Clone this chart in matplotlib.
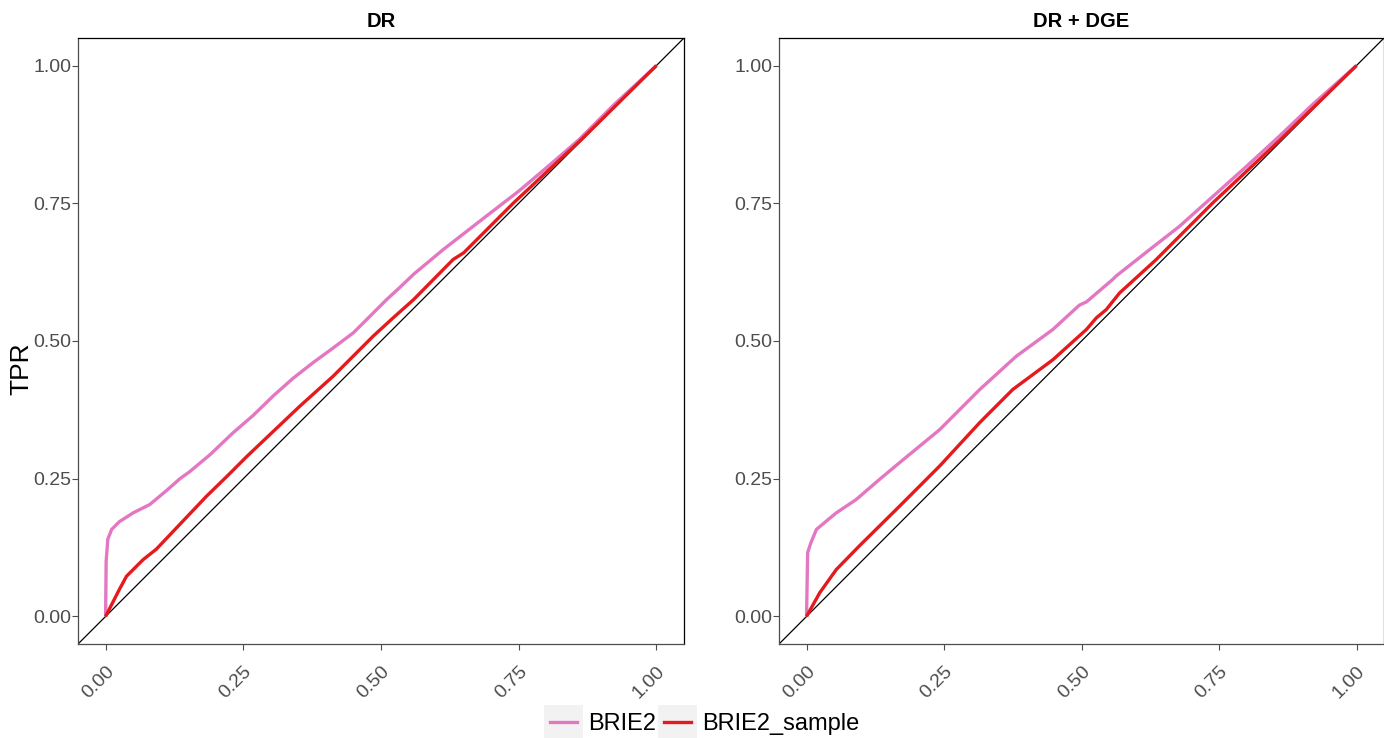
import matplotlib.pyplot as plt
from matplotlib.legend_handler import HandlerLine2D
from matplotlib.patches import Rectangle
from matplotlib.lines import Line2D

# ROC curves: false positive rate vs true positive rate
dr_brie2_fpr = [0.0, 0.001, 0.004, 0.011, 0.025, 0.05, 0.08, 0.11, 0.135, 0.153, 0.19,
                0.231, 0.268, 0.304, 0.34, 0.377, 0.41, 0.45, 0.48, 0.51, 0.535, 0.559,
                0.613, 0.68, 0.75, 0.801, 0.86, 0.922, 1.0]
dr_brie2_tpr = [0.0, 0.10, 0.14, 0.158, 0.172, 0.188, 0.203, 0.228, 0.25, 0.263, 0.294,
                0.333, 0.365, 0.40, 0.432, 0.461, 0.485, 0.515, 0.545, 0.575, 0.598, 0.621,
                0.666, 0.718, 0.772, 0.815, 0.866, 0.928, 1.0]
dr_sample_fpr = [0.0, 0.025, 0.038, 0.068, 0.092, 0.183, 0.22, 0.256, 0.353, 0.413, 0.486,
                 0.522, 0.559, 0.631, 0.65, 0.741, 0.862, 1.0]
dr_sample_tpr = [0.0, 0.049, 0.073, 0.103, 0.122, 0.218, 0.254, 0.29, 0.382, 0.436, 0.509,
                 0.542, 0.575, 0.648, 0.660, 0.751, 0.864, 1.0]

dge_brie2_fpr = [0.0, 0.002, 0.008, 0.018, 0.054, 0.09, 0.133, 0.169, 0.242, 0.315, 0.381,
                 0.448, 0.496, 0.509, 0.557, 0.563, 0.624, 0.678, 0.8, 0.86, 0.921, 1.0]
dge_brie2_tpr = [0.0, 0.116, 0.134, 0.158, 0.188, 0.212, 0.249, 0.279, 0.339, 0.412, 0.472,
                 0.521, 0.565, 0.571, 0.612, 0.618, 0.666, 0.708, 0.817, 0.872, 0.930, 1.0]
dge_sample_fpr = [0.0, 0.024, 0.054, 0.096, 0.169, 0.242, 0.315, 0.375, 0.448, 0.509, 0.527,
                  0.545, 0.569, 0.636, 0.648, 0.739, 0.86, 1.0]
dge_sample_tpr = [0.0, 0.043, 0.085, 0.128, 0.200, 0.273, 0.352, 0.412, 0.466, 0.521, 0.542,
                  0.557, 0.587, 0.648, 0.660, 0.751, 0.864, 1.0]

panels = [
    ("DR", dr_brie2_fpr, dr_brie2_tpr, dr_sample_fpr, dr_sample_tpr),
    ("DR + DGE", dge_brie2_fpr, dge_brie2_tpr, dge_sample_fpr, dge_sample_tpr),
]
ticks = [0.0, 0.25, 0.5, 0.75, 1.0]
tick_labels = ["0.00", "0.25", "0.50", "0.75", "1.00"]
pink = "#e377c2"
red = "#e41a1c"
grey = "#4d4d4d"

plt.rcParams["font.family"] = ["Liberation Sans", "DejaVu Sans"]
fig = plt.figure(figsize=(13.84, 7.38), dpi=100)
boxes = [[0.0564, 0.1274, 0.4378, 0.8211], [0.5629, 0.1274, 0.4371, 0.8211]]

for box, (title, bx, by, sx, sy) in zip(boxes, panels):
    ax = fig.add_axes(box)
    ax.axline((0, 0), slope=1, color="black", lw=0.9, zorder=1)
    ax.plot(bx, by, color=pink, lw=2.4, solid_capstyle="butt", zorder=2)
    ax.plot(sx, sy, color=red, lw=2.4, solid_capstyle="butt", zorder=3)
    ax.set_xlim(-0.05, 1.05)
    ax.set_ylim(-0.05, 1.05)
    ax.set_xticks(ticks)
    ax.set_xticklabels(tick_labels, rotation=45, ha="right", va="top",
                       rotation_mode="anchor")
    ax.set_yticks(ticks)
    ax.set_yticklabels(tick_labels)
    ax.tick_params(colors=grey, labelcolor=grey, labelsize=14, length=4, width=0.8)
    ax.tick_params(axis="x", pad=10)
    ax.tick_params(axis="y", pad=1)
    ax.spines["left"].set_color(grey)
    ax.spines["bottom"].set_color(grey)
    ax.spines["top"].set_color("black")
    ax.spines["right"].set_color("black")
    for s in ax.spines.values():
        s.set_linewidth(0.9)
    ax.set_title(title, fontsize=14.5, fontweight="bold", pad=8)

fig.text(21 / 1384, 0.5, "TPR", rotation=90, fontsize=19, ha="center", va="center")


class KeyHandler(HandlerLine2D):
    # grey key background behind each legend line
    def create_artists(self, legend, orig_handle, xdescent, ydescent,
                       width, height, fontsize, trans):
        bg = Rectangle((-xdescent - 4, -ydescent - 6), width + 8, height + 12,
                       facecolor="#f2f2f2", edgecolor="none", transform=trans)
        arts = super().create_artists(legend, orig_handle, xdescent, ydescent,
                                      width, height, fontsize, trans)
        return [bg] + arts


handles = [Line2D([], [], color=pink, lw=2.4), Line2D([], [], color=red, lw=2.4)]
fig.legend(handles, ["BRIE2", "BRIE2_sample"], loc="center", bbox_to_anchor=(0.509, 0.019),
           ncol=2, frameon=False, fontsize=17, handlelength=1.15, handletextpad=0.45,
           columnspacing=0.35, handler_map={Line2D: KeyHandler()})

fig.savefig("out.png", dpi=100)
